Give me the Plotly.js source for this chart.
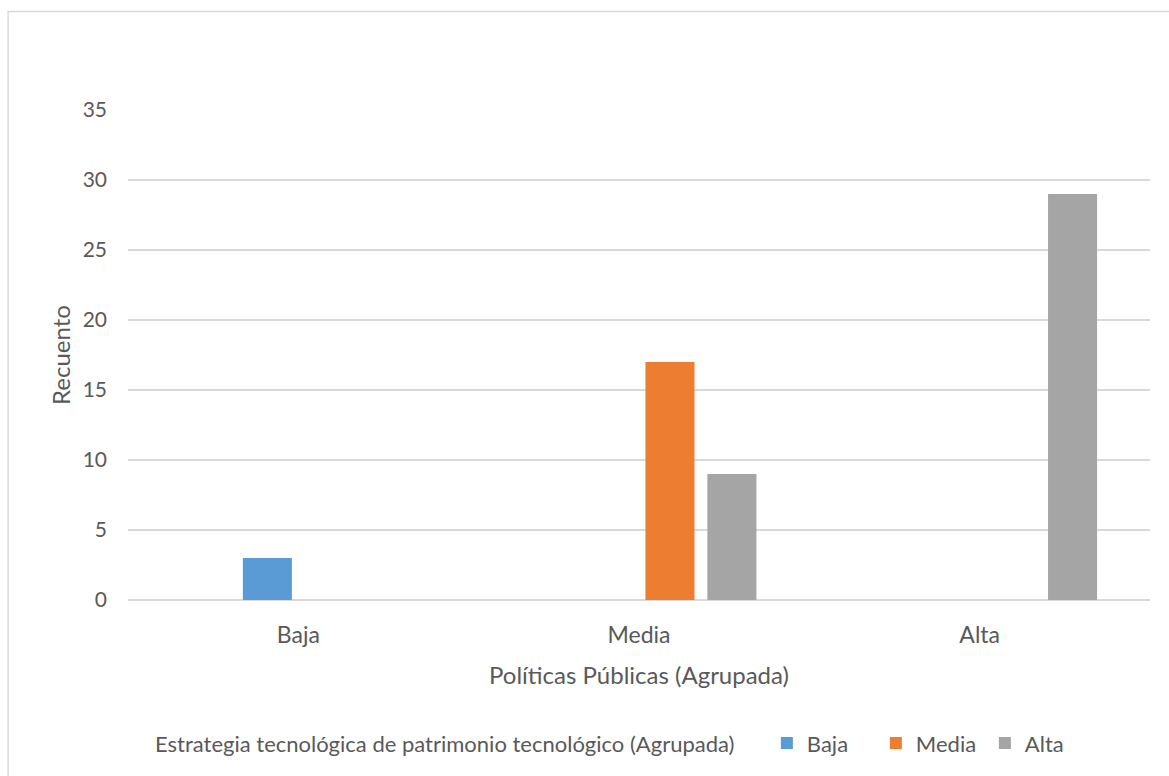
<!DOCTYPE html>
<html>
<head>
<meta charset="utf-8">
<script src="https://cdn.plot.ly/plotly-3.0.1.min.js"></script>
<style>
  html, body { margin: 0; padding: 0; background: #ffffff; }
  #chart { width: 1169px; height: 776px; }
</style>
</head>
<body>
<div id="chart"></div>
<script>
// Políticas Públicas (Agrupada) on the x axis
const categories = ['Baja', 'Media', 'Alta'];

// Counts per level of "Estrategia tecnológica de patrimonio tecnológico (Agrupada)"
const seriesNames = ['Baja', 'Media', 'Alta'];
const valuesBaja  = [3, 0, 0];
const valuesMedia = [0, 17, 0];
const valuesAlta  = [0, 9, 29];

const seriesColors = ['#5b9bd5', '#ed7d31', '#a5a5a5'];
const legendHeading = 'Estrategia tecnológica de patrimonio tecnológico (Agrupada)';

const FONT = 'Lato, "Liberation Sans", Arial, sans-serif';
const TEXT = '#595959';
const GRID = '#d9d9d9';

// Clustered layout: four slots per category (first slot unused),
// each bar 0.144 of a category wide
const barWidth = 0.144;
const slotCenters = [-0.0909, 0.0909, 0.2727];

const allValues = [valuesBaja, valuesMedia, valuesAlta];
const traces = allValues.map((vals, i) => ({
  type: 'bar',
  name: seriesNames[i],
  x: categories,
  y: vals,
  width: barWidth,
  offset: slotCenters[i] - barWidth / 2,
  marker: { color: seriesColors[i], line: { width: 0 } },
  hoverinfo: 'x+y+name'
}));

const W = 1169, H = 776;
const L = 127.5, R = 18.5, T = 110, B = 173;
const pw = W - L - R, ph = H - T - B;
const px = v => (v - L) / pw;
const py = v => (H - B - v) / ph;

const layout = {
  width: W,
  height: H,
  margin: { l: L, r: R, t: T, b: B, pad: 0 },
  paper_bgcolor: '#ffffff',
  plot_bgcolor: '#ffffff',
  font: { family: FONT, size: 22, color: TEXT },
  barmode: 'overlay',
  showlegend: true,
  xaxis: {
    type: 'category',
    range: [-0.5, 2.5],
    showgrid: false,
    showline: false,
    zeroline: false,
    ticks: '',
    ticklabelstandoff: 19,
    tickfont: { family: FONT, size: 23, color: TEXT },
    title: { text: 'Políticas Públicas (Agrupada)', font: { family: FONT, size: 24, color: TEXT }, standoff: 20 }
  },
  yaxis: {
    range: [0, 35],
    dtick: 5,
    tick0: 0,
    showgrid: true,
    gridcolor: GRID,
    gridwidth: 1.5,
    zeroline: true,
    zerolinecolor: GRID,
    zerolinewidth: 1.5,
    showline: false,
    ticks: '',
    ticklabelstandoff: 20,
    tickfont: { family: FONT, size: 21, color: TEXT },
    title: { text: 'Recuento', font: { family: FONT, size: 24, color: TEXT }, standoff: 5 }
  },
  legend: {
    orientation: 'h',
    x: px(767),
    xanchor: 'left',
    y: py(747),
    yanchor: 'middle',
    bgcolor: 'rgba(0,0,0,0)',
    entrywidth: 64,
    entrywidthmode: 'pixels',
    font: { family: FONT, size: 22, color: TEXT },
    itemclick: false,
    itemdoubleclick: false
  },
  annotations: [{
    text: legendHeading,
    xref: 'paper', yref: 'paper',
    x: px(153), y: py(747),
    xanchor: 'left', yanchor: 'middle',
    showarrow: false,
    font: { family: FONT, size: 22, color: TEXT }
  }],
  shapes: [{
    type: 'rect',
    xref: 'paper', yref: 'paper',
    x0: px(7.5), x1: px(1180),
    y0: py(800), y1: py(11),
    line: { color: GRID, width: 1.5 },
    fillcolor: 'rgba(0,0,0,0)',
    layer: 'below'
  }]
};

Plotly.newPlot('chart', traces, layout, { displayModeBar: false, staticPlot: true });
</script>
</body>
</html>
